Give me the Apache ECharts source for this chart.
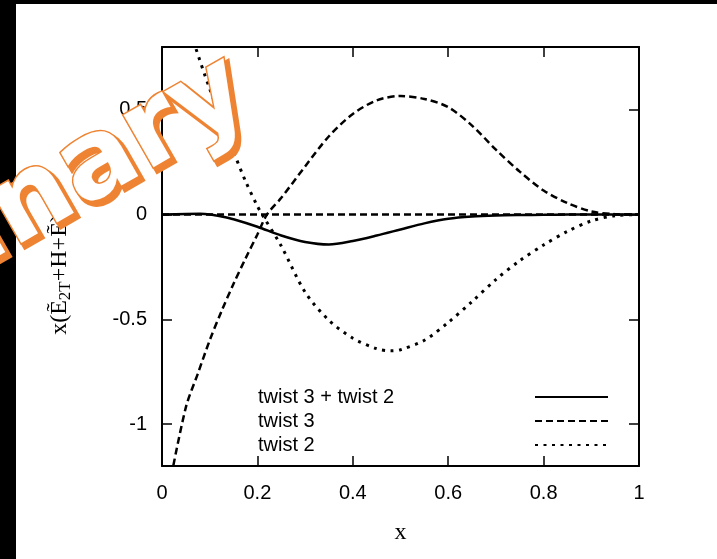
<!DOCTYPE html>
<html>
<head>
<meta charset="utf-8">
<script src="https://cdn.jsdelivr.net/npm/echarts@6/dist/echarts.min.js"></script>
<style>
html, body { margin: 0; padding: 0; background: #fff; }
#chart { width: 717px; height: 559px; }
</style>
</head>
<body>
<div id="chart"></div>
<script>
var sumX = [0, 0.05, 0.08, 0.1, 0.125, 0.15, 0.2, 0.25, 0.3, 0.35, 0.4, 0.45, 0.5, 0.55, 0.6, 0.65, 0.7, 0.75, 0.8, 0.85, 0.9, 0.95, 1];
var sumY = [0, 0.003, 0.004, 0.001, -0.009, -0.022, -0.058, -0.1, -0.131, -0.143, -0.126, -0.1, -0.071, -0.042, -0.02, -0.009, -0.004, -0.002, -0.001, 0, 0, 0, 0];

var twist3X = [0.015, 0.05, 0.075, 0.1, 0.125, 0.15, 0.175, 0.2, 0.22, 0.25, 0.3, 0.35, 0.4, 0.45, 0.5, 0.55, 0.6, 0.65, 0.7, 0.75, 0.8, 0.85, 0.9, 0.95, 1];
var twist3Y = [-1.3, -0.92, -0.76, -0.6, -0.46, -0.33, -0.21, -0.095, 0, 0.08, 0.23, 0.374, 0.48, 0.545, 0.566, 0.552, 0.513, 0.425, 0.31, 0.205, 0.115, 0.055, 0.015, 0.002, 0];

var twist2X = [0.03, 0.05, 0.07, 0.1, 0.125, 0.15, 0.175, 0.2, 0.21, 0.25, 0.3, 0.35, 0.4, 0.45, 0.48, 0.5, 0.55, 0.6, 0.65, 0.7, 0.75, 0.8, 0.85, 0.9, 0.95, 1];
var twist2Y = [1.1, 0.95, 0.8, 0.6, 0.45, 0.3, 0.16, 0.04, 0, -0.15, -0.37, -0.505, -0.59, -0.64, -0.65, -0.645, -0.6, -0.515, -0.415, -0.31, -0.22, -0.145, -0.08, -0.03, -0.005, 0];

var xTicks = [0, 0.2, 0.4, 0.6, 0.8, 1];
var yTicks = [-1, -0.5, 0, 0.5];
var legendNames = ['twist 3 + twist 2', 'twist 3', 'twist 2'];

function pairs(xs, ys) {
    var out = [];
    for (var i = 0; i < xs.length; i++) out.push([xs[i], ys[i]]);
    return out;
}

var mychart = echarts.init(document.getElementById('chart'));
var frame = { show: true, onZero: false, lineStyle: { color: '#000', width: 2 } };
var tick = { show: true, inside: true, length: 10, lineStyle: { color: '#000', width: 1.5 } };
var sans = '"Liberation Sans", Arial, sans-serif';
var serif = '"Liberation Serif", "DejaVu Serif", serif';

mychart.setOption({
    animation: false,
    backgroundColor: '#fff',
    color: ['#000', '#000', '#000'],
    grid: { left: 162, top: 47, right: 78, bottom: 93 },
    legend: {
        orient: 'vertical',
        left: 253,
        top: 380,
        align: 'right',
        itemWidth: 73,
        itemHeight: 14,
        itemGap: 0,
        selectedMode: false,
        data: legendNames,
        itemStyle: { opacity: 0 },
        formatter: function (name) { return '{t|' + name + '}'; },
        textStyle: {
            fontFamily: sans, fontSize: 20, color: '#000', lineHeight: 24,
            rich: { t: { fontFamily: sans, fontSize: 20, color: '#000', width: 272, align: 'left', lineHeight: 24 } }
        }
    },
    xAxis: [{
        type: 'value', min: 0, max: 1, interval: 0.2,
        name: 'x', nameLocation: 'middle', nameGap: 55,
        nameTextStyle: { fontFamily: serif, fontSize: 24, color: '#000' },
        axisLine: frame, axisTick: tick, splitLine: { show: false },
        axisLabel: { fontFamily: sans, fontSize: 20, color: '#000', margin: 17,
            customValues: xTicks, formatter: function (v) { return String(v); } }
    }, {
        type: 'value', position: 'top', min: 0, max: 1, interval: 0.2,
        axisLine: frame, axisTick: tick, splitLine: { show: false }, axisLabel: { show: false }
    }],
    yAxis: [{
        type: 'value', min: -1.2, max: 0.8,
        name: 'x(Ẽ{s|2T}+H+Ẽ)', nameLocation: 'middle', nameGap: 88,
        nameTextStyle: {
            fontFamily: serif, fontSize: 24, color: '#000', padding: [0, 36, 0, 0],
            rich: { s: { fontFamily: serif, fontSize: 17, color: '#000', padding: [12, 0, 0, 0] } }
        },
        axisLine: frame, splitLine: { show: false },
        axisTick: { show: true, inside: true, length: 10, customValues: yTicks, lineStyle: { color: '#000', width: 1.5 } },
        axisLabel: { fontFamily: sans, fontSize: 20, color: '#000', margin: 15,
            customValues: yTicks, formatter: function (v) { return String(v); } }
    }, {
        type: 'value', position: 'right', min: -1.2, max: 0.8,
        axisLine: frame, splitLine: { show: false }, axisLabel: { show: false },
        axisTick: { show: true, inside: true, length: 10, customValues: yTicks, lineStyle: { color: '#000', width: 1.5 } }
    }],
    series: [
        {
            name: legendNames[0], type: 'line', smooth: 0.3, showSymbol: false, symbol: 'none', z: 5,
            itemStyle: { color: '#000' },
            lineStyle: { color: '#000', width: 2.5 },
            data: pairs(sumX, sumY)
        },
        {
            name: legendNames[1], type: 'line', smooth: 0.3, showSymbol: false, symbol: 'none', z: 4,
            itemStyle: { color: '#000' },
            lineStyle: { color: '#000', width: 2.5, type: [7, 4] },
            data: pairs(twist3X, twist3Y),
            markLine: {
                silent: true, symbol: 'none', label: { show: false },
                lineStyle: { color: '#000', width: 2.5, type: [7, 4] },
                data: [{ yAxis: 0 }]
            }
        },
        {
            name: legendNames[2], type: 'line', smooth: 0.3, showSymbol: false, symbol: 'none', z: 4,
            itemStyle: { color: '#000' },
            lineStyle: { color: '#000', width: 3, type: [3, 5.5] },
            data: pairs(twist2X, twist2Y)
        }
    ],
    graphic: [
        { type: 'rect', left: 0, top: 0, z: 50, shape: { width: 16, height: 559 }, style: { fill: '#000' } },
        { type: 'rect', left: 0, top: 0, z: 50, shape: { width: 717, height: 4 }, style: { fill: '#000' } },
        {
            type: 'text', x: 272, y: 136, rotation: 0.52, z: 60,
            style: { text: 'Preliminary', font: 'bold 110px "DejaVu Sans", sans-serif', align: 'right', verticalAlign: 'bottom',
                fill: '#ee8433', stroke: '#ee8433', lineWidth: 5 }
        },
        {
            type: 'text', x: 268, y: 132, rotation: 0.52, z: 61,
            style: { text: 'Preliminary', font: 'bold 110px "DejaVu Sans", sans-serif', align: 'right', verticalAlign: 'bottom',
                fill: '#fff', stroke: '#ee8433', lineWidth: 3 }
        }
    ]
});
</script>
</body>
</html>
